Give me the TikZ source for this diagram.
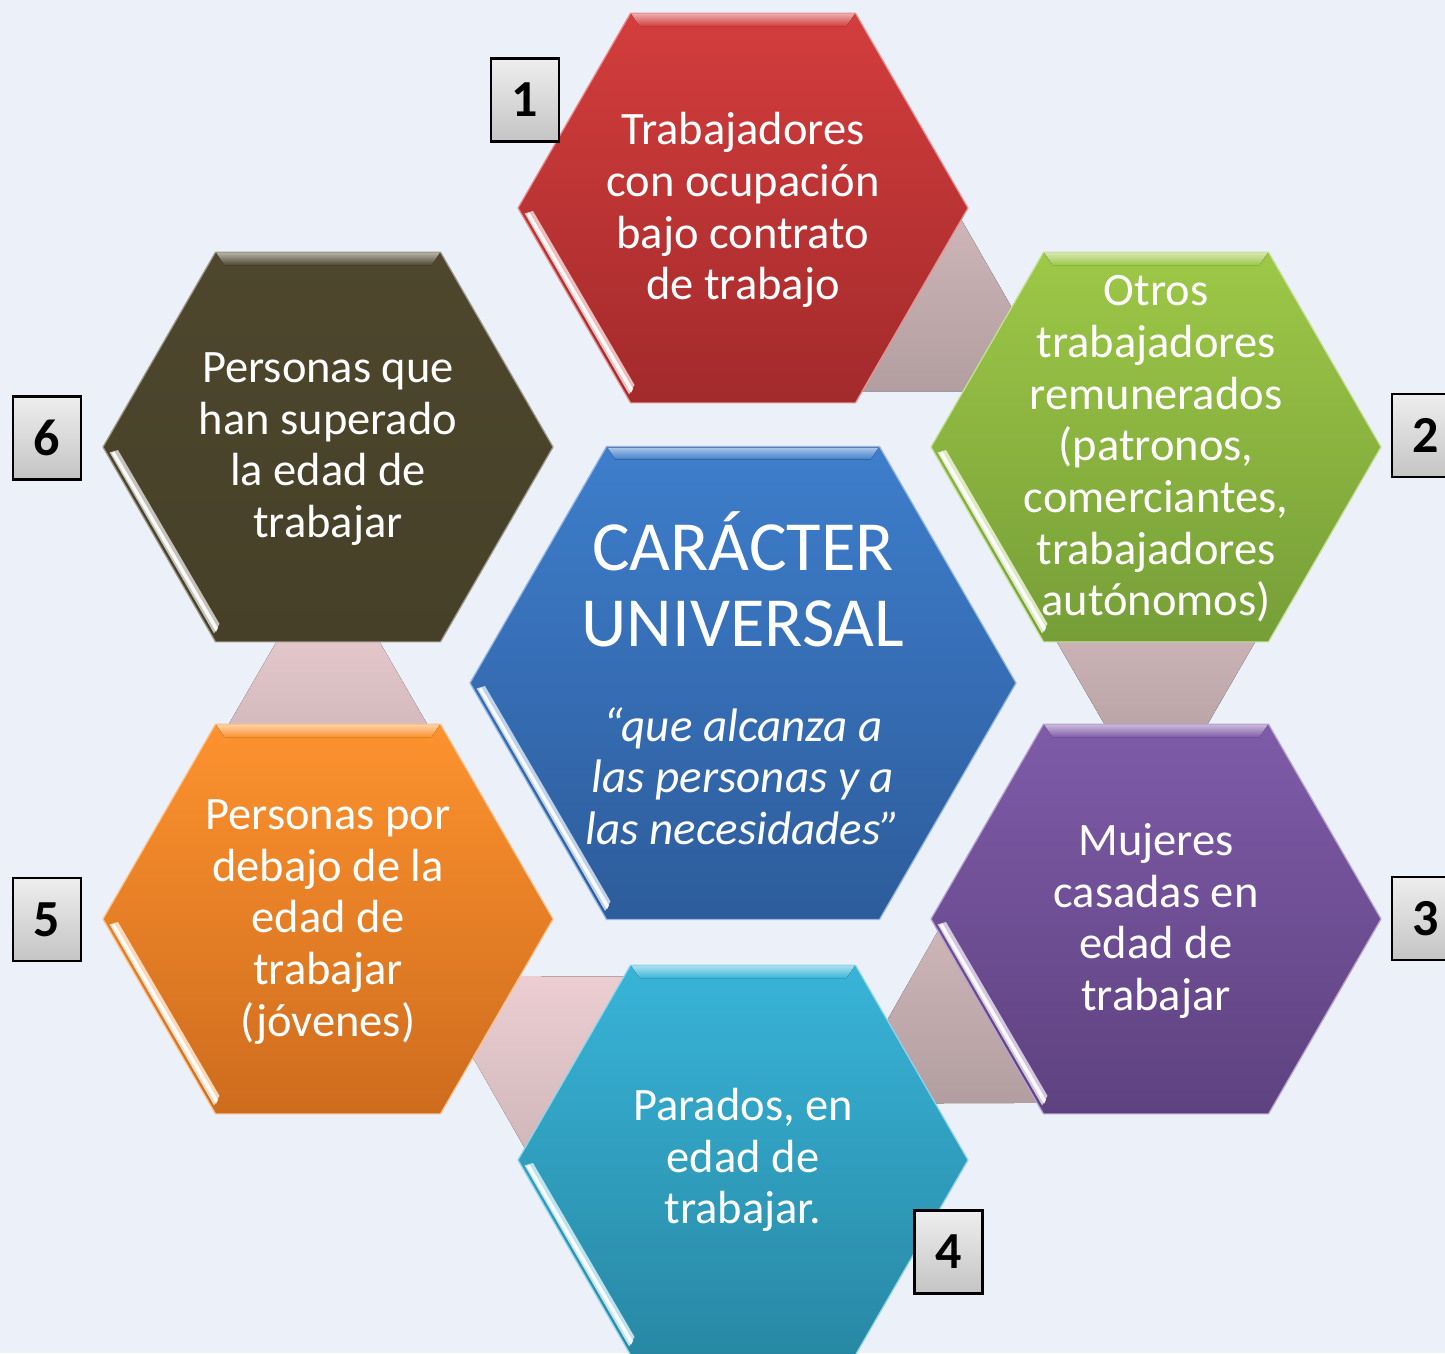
\documentclass[tikz,border=0pt]{standalone}
\usepackage{fontspec}
\setmainfont{Carlito}
\usetikzlibrary{calc}

\definecolor{bg}{RGB}{235,240,249}
\definecolor{linkT}{RGB}{236,206,210}
\definecolor{linkB}{RGB}{178,158,160}
\definecolor{numT}{RGB}{238,238,238}
\definecolor{numB}{RGB}{196,196,196}
\definecolor{redT}{RGB}{212,61,61}
\definecolor{redB}{RGB}{163,42,43}
\definecolor{grnT}{RGB}{157,200,71}
\definecolor{grnB}{RGB}{118,158,56}
\definecolor{purT}{RGB}{127,91,168}
\definecolor{purB}{RGB}{94,66,128}
\definecolor{tealT}{RGB}{56,180,216}
\definecolor{tealB}{RGB}{40,136,164}
\definecolor{orgT}{RGB}{253,146,46}
\definecolor{orgB}{RGB}{206,108,30}
\definecolor{oliT}{RGB}{78,71,46}
\definecolor{oliB}{RGB}{70,64,40}
\definecolor{bluT}{RGB}{62,126,204}
\definecolor{bluB}{RGB}{45,92,155}

% #1 cx, #2 cy, #3 R, #4 colour prefix
\newcommand\drawhex[4]{%
  \fill[top color=#4T, bottom color=#4B, draw=#4T!55!white, line width=1.2pt]
    ({#1-#3},#2) -- ({#1-#3/2},{#2-0.866*#3}) -- ({#1+#3/2},{#2-0.866*#3})
    -- ({#1+#3},#2) -- ({#1+#3/2},{#2+0.866*#3}) -- ({#1-#3/2},{#2+0.866*#3}) -- cycle;
  % top bevel
  \fill[top color=#4T!45!white, bottom color=#4T]
    ({#1-#3/2+1},{#2-0.866*#3+1}) -- ({#1+#3/2-1},{#2-0.866*#3+1})
    -- ({#1+#3/2-9},{#2-0.866*#3+13}) -- ({#1-#3/2+9},{#2-0.866*#3+13}) -- cycle;
  % lower-left highlight
  \fill[#4T!25!white, fill opacity=0.9]
    ({#1-#3+6.6},{#2+5.4}) -- ({#1-#3/2-1.4},{#2+0.866*#3-8.4})
    -- ({#1-#3/2+4},{#2+0.866*#3-18}) -- ({#1-#3+15},{#2+3}) -- cycle;
  \fill[white, fill opacity=0.9]
    ({#1-#3+8.5},{#2+6}) -- ({#1-#3/2+0.5},{#2+0.866*#3-10})
    -- ({#1-#3/2+2.5},{#2+0.866*#3-14}) -- ({#1-#3+11.5},{#2+4.5}) -- cycle;
}

% link from #1 (wide) to #2 (narrow)
\newcommand\drawlink[2]{%
  \fill[linkshade]
    ($(#1)!212pt!90:(#2)$) -- ($(#1)!330pt!(#2)!21pt!90:(#2)$)
    -- ($(#1)!330pt!(#2)!21pt!-90:(#2)$) -- ($(#1)!212pt!-90:(#2)$) -- cycle;
}

\begin{document}
\begin{tikzpicture}[x=1pt,y=-1pt,
  hextext/.style={text=white, align=center, inner sep=0pt,
    font=\fontsize{46.5}{51.7}\selectfont},
  numbox/.style={draw=black, line width=2.5pt, top color=numT, bottom color=numB,
    minimum width=68pt, minimum height=83pt, inner sep=0pt,
    font=\bfseries\fontsize{52}{52}\selectfont},
  linkshade/.style={top color=linkT, bottom color=linkB}]

\useasboundingbox (0,0) rectangle (1445,1353);
\fill[bg] (0,0) rectangle (1445,1353);
\clip (0,0) rectangle (1445,1353);

\coordinate (c0) at (743,683);
\coordinate (c1) at (743,208);
\coordinate (c2) at (1156,447);
\coordinate (c3) at (1156,919);
\coordinate (c4) at (743,1160);
\coordinate (c5) at (328,919);
\coordinate (c6) at (328,447);

% connectors
\drawlink{c1}{c2}
\drawlink{c2}{c3}
\drawlink{c3}{c4}
\drawlink{c4}{c5}
\drawlink{c5}{c6}

% hexagons
\drawhex{743}{208}{225}{red}
\drawhex{1156}{447}{225}{grn}
\drawhex{1156}{919}{225}{pur}
\drawhex{743}{1160}{225}{teal}
\drawhex{328}{919}{225}{org}
\drawhex{328}{447}{225}{oli}
\drawhex{743}{683}{273}{blu}

% texts
\node[hextext] (t1) at (743,210) {Trabajadores\\con ocupación\\bajo contrato\\de trabajo};
\node[hextext] (t2) at (1156,449) {Otros\\trabajadores\\remunerados\\(patronos,\\comerciantes,\\trabajadores\\autónomos)};
\node[hextext] (t3) at (1156,921) {Mujeres\\casadas en\\edad de\\trabajar};
\node[hextext] (t4) at (743,1160) {Parados, en\\edad de\\trabajar.};
\node[hextext] (t5) at (328,922) {Personas por\\debajo de la\\edad de\\trabajar\\(jóvenes)};
\node[hextext] (t6) at (328,449) {Personas que\\han superado\\la edad de\\trabajar};
\node[hextext, font=\fontsize{70.5}{76}\selectfont] (t0a) at (743,579) {CARÁCTER\\UNIVERSAL};
\node[hextext, font=\itshape\fontsize{47}{51.7}\selectfont] (t0b) at (743,776) {“que alcanza a\\las personas y a\\las necesidades”};

% number boxes
\node[numbox] (n1) at (525,100) {1};
\node[numbox] (n2) at (1426,435.5) {2};
\node[numbox] (n3) at (1426,918.5) {3};
\node[numbox] (n4) at (948.5,1252) {4};
\node[numbox] (n5) at (47,919.5) {5};
\node[numbox] (n6) at (47,438) {6};
\end{tikzpicture}
\end{document}
